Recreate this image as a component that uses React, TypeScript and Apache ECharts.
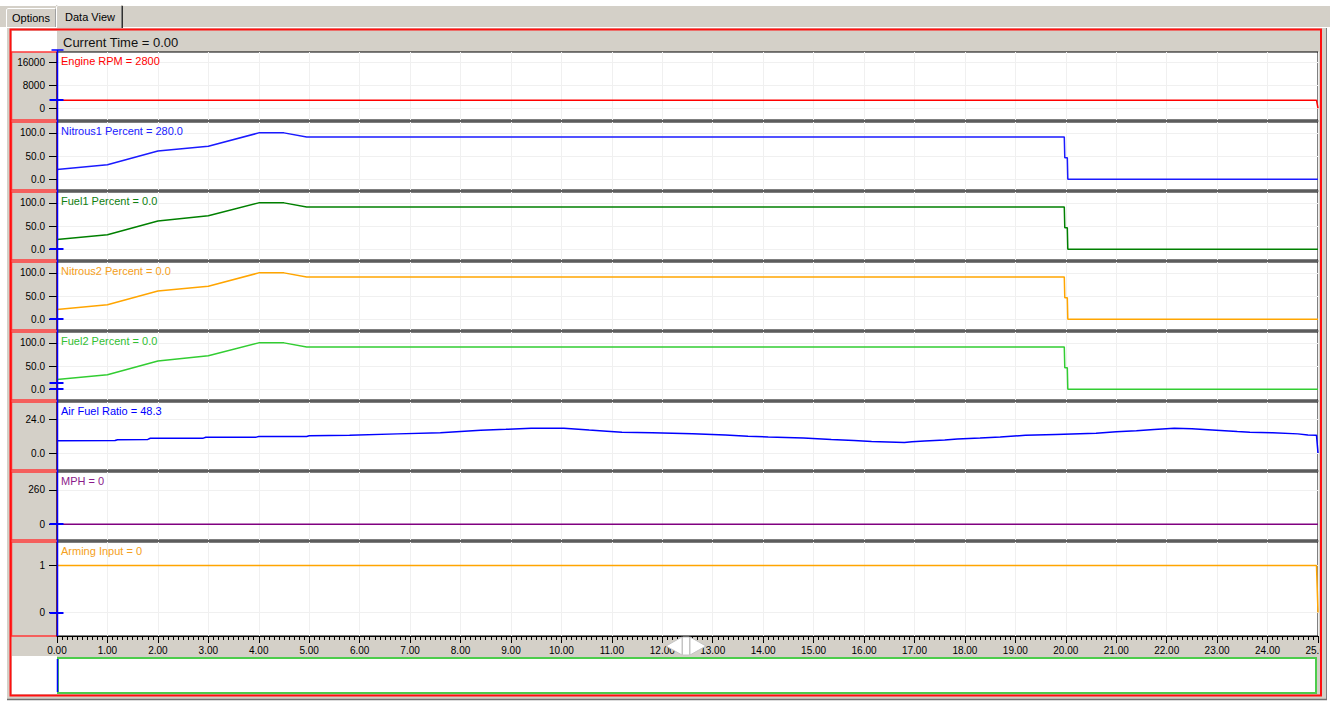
import React, { useEffect, useRef } from "react";
import * as echarts from "echarts";

// ---------- data ----------
const timeMin = 0;
const timeMax = 25;
const timeInterval = 1;

const rpmData: number[][] = [[0, 2800], [24.97, 2800], [25, 0]];
const nitrous1Data: number[][] = [[0, 21], [1, 31], [2, 61], [3, 71], [4, 100], [4.5, 100], [4.95, 91], [19.97, 91], [19.98, 46], [20.03, 46], [20.04, 0], [25, 0]];
const fuel1Data: number[][] = [[0, 21], [1, 31], [2, 61], [3, 72], [4, 100], [4.5, 100], [4.95, 91], [19.97, 91], [19.98, 46], [20.03, 46], [20.04, 0], [25, 0]];
const nitrous2Data: number[][] = [[0, 21], [1, 31], [2, 61], [3, 71], [4, 100], [4.5, 100], [4.95, 91], [19.97, 91], [19.98, 46], [20.03, 46], [20.04, 0], [25, 0]];
const fuel2Data: number[][] = [[0, 21], [1, 31], [2, 61], [3, 72], [4, 100], [4.5, 100], [4.95, 91], [19.97, 91], [19.98, 46], [20.03, 46], [20.04, 0], [25, 0]];
const afrData: number[][] = [
  [0, 8.7], [1.15, 8.8], [1.2, 9.4], [1.8, 9.6], [1.85, 10.4], [2.9, 10.5], [2.95, 11.1], [3.95, 11.2],
  [4.0, 11.6], [4.95, 11.7], [5.0, 12.2], [5.8, 12.5], [6.75, 13.5], [7.6, 14.3], [8.0, 15.2], [8.4, 16.0],
  [8.9, 16.7], [9.4, 17.5], [10.05, 17.5], [10.55, 16.2], [10.9, 15.4], [11.2, 14.7], [11.8, 14.3],
  [12.6, 13.6], [13.25, 12.7], [13.7, 11.9], [14.1, 11.3], [14.8, 10.6], [15.35, 9.6], [15.8, 8.9],
  [16.15, 8.2], [16.8, 7.4], [16.95, 7.9], [17.2, 8.5], [17.6, 9.2], [17.85, 9.9], [18.3, 10.6],
  [18.7, 11.3], [19.2, 12.5], [19.8, 13.1], [20.6, 14.0], [21.0, 15.0], [21.4, 15.7], [21.75, 16.6],
  [22.15, 17.4], [22.5, 17.1], [22.9, 16.3], [23.4, 15.1], [23.65, 14.6], [24.1, 14.3], [24.6, 13.5],
  [24.8, 12.7], [24.97, 12.6], [25, 0],
];
const mphData: number[][] = [[0, 0], [25, 0]];
const armingData: number[][] = [[0, 1], [24.97, 1], [25, 0]];

const rpmTicks = [0, 8000, 16000];
const pctTicks = [0, 50, 100];
const afrTicks = [0, 24];
const mphTicks = [0, 260];
const armTicks = [0, 1];

const rpmRange = [-4100, 19600];
const pctRange = [-23.5, 123.5];
const afrRange = [-12, 36];
const mphRange = [-120, 395];
const armRange = [-0.5, 1.5];

const panelLabels = [
  "Engine RPM = 2800",
  "Nitrous1 Percent = 280.0",
  "Fuel1 Percent = 0.0",
  "Nitrous2 Percent = 0.0",
  "Fuel2 Percent = 0.0",
  "Air Fuel Ratio = 48.3",
  "MPH = 0",
  "Arming Input = 0",
];
const headerText = "Current Time = 0.00";
const currentTime = 0;

// cursor value markers (panel index, value)
const cursorMarks = [
  [0, 2800], [2, 0], [3, 0], [4, 13], [4, 0], [6, 0], [7, 0],
];

// ---------- layout / style ----------
const FONT = "'Liberation Sans', Arial, sans-serif";
const panelTops = [52, 122, 192, 262, 332, 402, 472, 542];
const panelHeights = [68, 68, 68, 68, 68, 68, 68, 94];
const lineColors = ["#ff0000", "#1a1aff", "#008000", "#ffa500", "#32cd32", "#0000ff", "#800080", "#ffa500"];
const textColors = ["#ff0000", "#2020ff", "#108010", "#f5a020", "#33c033", "#0000ff", "#8b1a8b", "#f5a020"];

const fmtInt = (v: number) => String(Math.round(v));
const fmt1 = (v: number) => v.toFixed(1);

const panels = [
  { data: rpmData, ticks: rpmTicks, range: rpmRange, fmt: fmtInt },
  { data: nitrous1Data, ticks: pctTicks, range: pctRange, fmt: fmt1 },
  { data: fuel1Data, ticks: pctTicks, range: pctRange, fmt: fmt1 },
  { data: nitrous2Data, ticks: pctTicks, range: pctRange, fmt: fmt1 },
  { data: fuel2Data, ticks: pctTicks, range: pctRange, fmt: fmt1 },
  { data: afrData, ticks: afrTicks, range: afrRange, fmt: fmt1 },
  { data: mphData, ticks: mphTicks, range: mphRange, fmt: fmtInt },
  { data: armingData, ticks: armTicks, range: armRange, fmt: fmtInt },
];

function buildOption() {
  const n = panels.length;
  const grid = panels.map((_, i) => ({
    left: 57,
    right: 12,
    top: panelTops[i],
    height: panelHeights[i],
    show: true,
    backgroundColor: "#ffffff",
    borderColor: "#000000",
    borderWidth: 1,
    containLabel: false,
    outerBoundsMode: "none",
  }));
  const xAxis = panels.map((_, i) => {
    const last = i === n - 1;
    return {
      type: "value",
      gridIndex: i,
      min: timeMin,
      max: timeMax,
      interval: timeInterval,
      axisLine: { show: last, onZero: false, lineStyle: { color: "#000", width: 1 } },
      axisTick: { show: last, length: 7, lineStyle: { color: "#000" } },
      minorTick: { show: last, splitNumber: 10, length: 4, lineStyle: { color: "#000" } },
      axisLabel: {
        show: last,
        fontSize: 10,
        fontFamily: FONT,
        color: "#000",
        margin: 9,
        showMaxLabel: true,
        showMinLabel: true,
        hideOverlap: false,
        formatter: (v: number) => v.toFixed(2),
      },
      splitLine: { show: true, lineStyle: { color: "#f0f0f0", width: 1 } },
    };
  });
  const yAxis = panels.map((p, i) => ({
    type: "value",
    gridIndex: i,
    min: p.range[0],
    max: p.range[1],
    axisLine: { show: false, onZero: false },
    axisTick: { show: true, length: 8, lineStyle: { color: "#000" }, customValues: p.ticks },
    axisLabel: {
      show: true,
      customValues: p.ticks,
      fontSize: 10,
      fontFamily: FONT,
      color: "#000",
      margin: 12,
      formatter: (v: number) => p.fmt(v),
    },
    splitLine: { show: true, lineStyle: { color: "#f0f0f0", width: 1 } },
  }));
  const series = panels.map((p, i) => ({
    type: "line",
    xAxisIndex: i,
    yAxisIndex: i,
    data: p.data,
    showSymbol: false,
    symbol: "none",
    clip: true,
    lineStyle: { color: lineColors[i], width: 1.5 },
    itemStyle: { color: lineColors[i] },
    z: 3,
  }));
  return {
    animation: false,
    backgroundColor: "#ffffff",
    textStyle: { fontFamily: FONT },
    grid,
    xAxis,
    yAxis,
    series,
  };
}

function buildGraphic(chart: echarts.ECharts) {
  const px = (gi: number, t: number, v: number) =>
    chart.convertToPixel({ gridIndex: gi } as any, [t, v]) as unknown as number[];
  const cursorX = Math.round(px(0, currentTime, 0)[0]) + 0.5;
  const els: any[] = [];
  const txt = (x: number, y: number, text: string, size: number, fill: string, z = 50, align = "left") => ({
    type: "text",
    x,
    y,
    z,
    style: {
      text,
      fill,
      font: `${size}px ${FONT}`,
      textAlign: align,
      align,
      textVerticalAlign: "middle",
      verticalAlign: "middle",
    },
  });
  // background chrome
  els.push({ type: "rect", z: -10, shape: { x: 0, y: 6, width: 1330, height: 21 }, style: { fill: "#d4d0c8" } });
  els.push({ type: "rect", z: -10, shape: { x: 7, y: 28, width: 1320, height: 672 }, style: { fill: "#d4d0c8" } });
  els.push({ type: "line", z: -9, shape: { x1: 0, y1: 27.5, x2: 1330, y2: 27.5 }, style: { stroke: "#ffffff", lineWidth: 1 } });
  els.push({ type: "line", z: -9, shape: { x1: 1326.5, y1: 28, x2: 1326.5, y2: 700 }, style: { stroke: "#808080", lineWidth: 1 } });
  els.push({ type: "line", z: -9, shape: { x1: 7, y1: 699.5, x2: 1327, y2: 699.5 }, style: { stroke: "#707070", lineWidth: 1.5 } });
  els.push({ type: "rect", z: -9, shape: { x: 57, y: 52, width: 1262, height: 584 }, style: { fill: "#b8b8b8" } });
  els.push({ type: "rect", z: -9, shape: { x: 12, y: 31, width: 45, height: 21 }, style: { fill: "#ffffff" } });
  els.push({ type: "rect", z: -9, shape: { x: 12, y: 656, width: 45, height: 38 }, style: { fill: "#ffffff" } });
  els.push({ type: "rect", z: -9, shape: { x: 58, y: 658, width: 1258, height: 35 }, style: { fill: "#ffffff", stroke: "#4ccc4c", lineWidth: 2 } });
  panels.forEach((_, i) => {
    els.push({
      type: "rect",
      z: -8,
      shape: { x: 11.5, y: panelTops[i], width: 45.5, height: panelHeights[i] },
      style: { fill: "#d4d0c8", stroke: "#ff3a3a", lineWidth: 1.5 },
    });
    els.push(txt(61, panelTops[i] + 9, panelLabels[i], 11, textColors[i], 60));
  });
  // tabs
  els.push({ type: "rect", z: -7, shape: { x: 6, y: 8, width: 50, height: 19 }, style: { fill: "#d4d0c8" } });
  els.push({ type: "polyline", z: -7, shape: { points: [[6.5, 27], [6.5, 9.5], [8, 8.5], [55, 8.5]] }, style: { stroke: "#ffffff", lineWidth: 1, fill: "none" } });
  els.push({ type: "line", z: -7, shape: { x1: 55.5, y1: 9, x2: 55.5, y2: 27 }, style: { stroke: "#a0a0a0", lineWidth: 1 } });
  els.push({ type: "rect", z: -7, shape: { x: 56, y: 5, width: 67, height: 23 }, style: { fill: "#d4d0c8" } });
  els.push({ type: "polyline", z: -7, shape: { points: [[56.5, 28], [56.5, 6.5], [58, 5.5], [121, 5.5]] }, style: { stroke: "#ffffff", lineWidth: 1, fill: "none" } });
  els.push({ type: "line", z: -7, shape: { x1: 121.5, y1: 6, x2: 121.5, y2: 28 }, style: { stroke: "#808080", lineWidth: 1 } });
  els.push({ type: "line", z: -7, shape: { x1: 122.5, y1: 6, x2: 122.5, y2: 28 }, style: { stroke: "#303030", lineWidth: 1 } });
  els.push(txt(31, 18, "Options", 11, "#000", 60, "center"));
  els.push(txt(90, 16.5, "Data View", 11, "#000", 60, "center"));
  els.push(txt(63, 42, headerText, 13, "#111", 60));

  // overlays
  els.push({ type: "rect", z: 90, shape: { x: 1319.5, y: 636, width: 7, height: 21 }, style: { fill: "#d4d0c8" } });
  els.push({ type: "rect", z: 90, shape: { x: 1326, y: 630, width: 4, height: 30 }, style: { fill: "#ffffff" } });
  els.push({ type: "line", z: 91, shape: { x1: 1326.5, y1: 630, x2: 1326.5, y2: 660 }, style: { stroke: "#808080", lineWidth: 1 } });
  els.push({ type: "rect", z: 95, shape: { x: 10.5, y: 29.5, width: 1310.5, height: 666 }, style: { fill: "none", stroke: "#ff1010", lineWidth: 2 } });
  // scroll arrows on the time axis
  els.push({ type: "polygon", z: 80, shape: { points: [[682, 637], [682, 655], [666, 646]] }, style: { fill: "#ffffff", stroke: "#c4c4c4", lineWidth: 1 } });
  els.push({ type: "rect", z: 80, shape: { x: 682.5, y: 637, width: 7, height: 18 }, style: { fill: "#ffffff", stroke: "#c4c4c4", lineWidth: 1 } });
  els.push({ type: "polygon", z: 80, shape: { points: [[690, 637], [690, 655], [706, 646]] }, style: { fill: "#ffffff", stroke: "#c4c4c4", lineWidth: 1 } });
  // cursor
  els.push({ type: "line", z: 85, shape: { x1: cursorX, y1: 50, x2: cursorX, y2: 636 }, style: { stroke: "#0000ff", lineWidth: 1.5 } });
  els.push({ type: "line", z: 85, shape: { x1: cursorX, y1: 659, x2: cursorX, y2: 692 }, style: { stroke: "#0000ff", lineWidth: 1.5 } });
  els.push({ type: "line", z: 85, shape: { x1: cursorX - 6, y1: 50, x2: cursorX + 6, y2: 50 }, style: { stroke: "#0000ff", lineWidth: 1.5 } });
  cursorMarks.forEach(([gi, v]) => {
    const y = Math.round(px(gi, currentTime, v)[1]);
    els.push({ type: "line", z: 85, shape: { x1: cursorX - 8, y1: y, x2: cursorX + 6, y2: y }, style: { stroke: "#0000ff", lineWidth: 2 } });
  });
  return els;
}

export default function App() {
  const ref = useRef<HTMLDivElement>(null);
  useEffect(() => {
    if (!ref.current) return;
    const chart = echarts.init(ref.current, null, { renderer: "svg" });
    chart.setOption(buildOption() as any);
    chart.setOption({ graphic: { elements: buildGraphic(chart) } } as any);
    return () => chart.dispose();
  }, []);
  return (
    <div
      ref={ref}
      style={{ position: "absolute", left: 0, top: 0, width: 1330, height: 702 }}
    />
  );
}
